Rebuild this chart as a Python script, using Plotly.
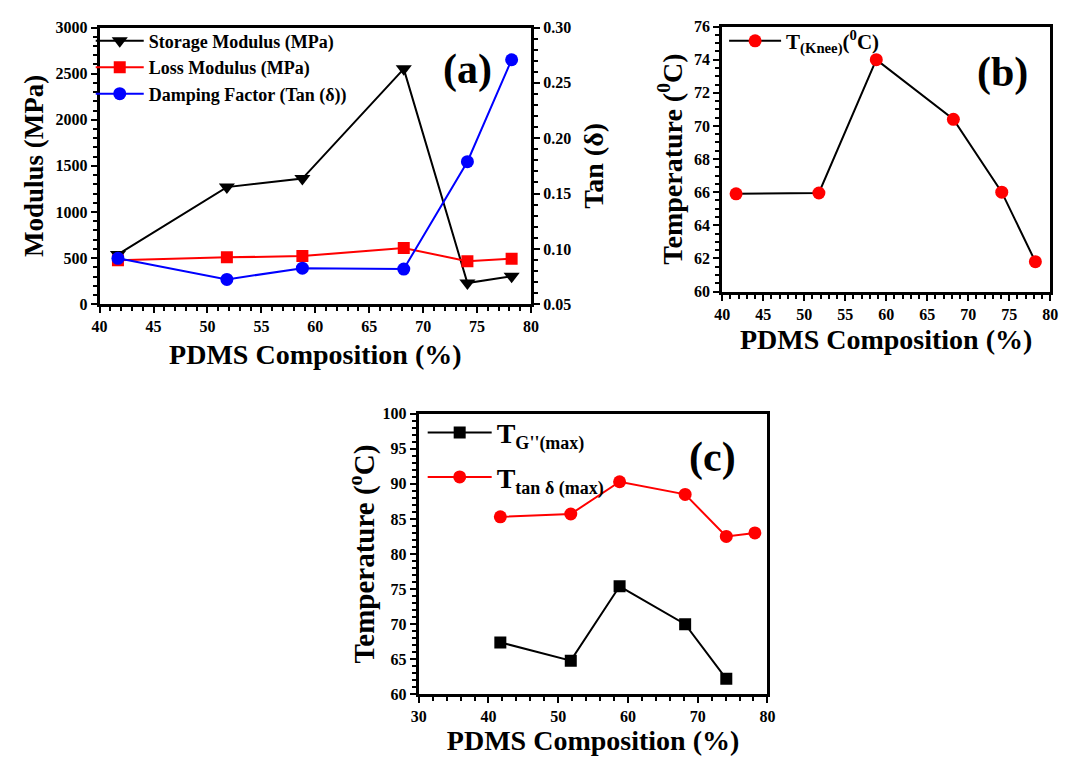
import plotly.graph_objects as go

W, H = 1067, 760

pdms = [41.7, 51.8, 58.8, 68.2, 74.1, 78.2]
storage_mod = [540, 1270, 1362, 2552, 229, 303]
loss_mod = [476, 508, 522, 610, 466, 494]
tan_delta = [0.0915, 0.0724, 0.0826, 0.0818, 0.1788, 0.2709]

t_knee = [65.9, 65.95, 74.0, 70.4, 66.0, 61.8]

pdms_g = [41.7, 51.8, 58.8, 68.2, 74.1]
t_g_max = [67.4, 64.8, 75.4, 70.0, 62.2]
t_tan_max = [85.3, 85.7, 90.3, 88.5, 82.5, 83.0]

FONT = "Liberation Serif, Times New Roman, serif"


def px_x(p):
    return p / W


def px_y(p):
    return 1 - p / H


fig = go.Figure()

# Panel (a)
fig.add_trace(go.Scatter(x=pdms, y=storage_mod, mode="lines+markers", name="Storage Modulus (MPa)",
                         line=dict(color="black", width=2),
                         marker=dict(symbol="triangle-down", size=14, color="black"),
                         xaxis="x", yaxis="y", legend="legend"))
fig.add_trace(go.Scatter(x=pdms, y=loss_mod, mode="lines+markers", name="Loss Modulus (MPa)",
                         line=dict(color="red", width=2),
                         marker=dict(symbol="square", size=12, color="red"),
                         xaxis="x", yaxis="y", legend="legend"))
fig.add_trace(go.Scatter(x=pdms, y=tan_delta, mode="lines+markers", name="Damping Factor (Tan (δ))",
                         line=dict(color="blue", width=2),
                         marker=dict(symbol="circle", size=13, color="blue"),
                         xaxis="x", yaxis="y2", legend="legend"))

# Panel (b)
fig.add_trace(go.Scatter(x=pdms, y=t_knee, mode="lines+markers",
                         name="T<sub>(Knee)</sub>(<sup>0</sup>C)",
                         line=dict(color="black", width=2),
                         marker=dict(symbol="circle", size=13, color="red"),
                         xaxis="x2", yaxis="y3", legend="legend2"))

# Panel (c)
fig.add_trace(go.Scatter(x=pdms_g, y=t_g_max, mode="lines+markers",
                         name="T<sub><span style='font-size:18px'>G''(max)</span></sub>",
                         legendgroup="g1",
                         line=dict(color="black", width=2),
                         marker=dict(symbol="square", size=12, color="black"),
                         xaxis="x3", yaxis="y4", legend="legend3"))
fig.add_trace(go.Scatter(x=pdms, y=t_tan_max, mode="lines+markers",
                         name="T<sub><span style='font-size:18px'>tan δ (max)</span></sub>",
                         legendgroup="g2",
                         line=dict(color="red", width=2),
                         marker=dict(symbol="circle", size=13, color="red"),
                         xaxis="x3", yaxis="y4", legend="legend3"))

tickfont = dict(family=FONT, size=16, color="black", weight="bold")
xtitlefont = dict(family=FONT, size=28, color="black", weight="bold")

common = dict(showline=True, linewidth=3, linecolor="black", mirror=True,
              ticks="outside", ticklen=6, tickwidth=2, tickcolor="black",
              showgrid=False, zeroline=False, tickfont=tickfont,
              minor=dict(ticks="outside", ticklen=4, tickwidth=2, tickcolor="black", showgrid=False))
common_nomirror = {k: v for k, v in common.items() if k != "mirror"}

fig.update_layout(
    width=W, height=H,
    margin=dict(l=0, r=0, t=0, b=0),
    plot_bgcolor="white", paper_bgcolor="white",
    font=dict(family=FONT, color="black"),
    xaxis=dict(domain=[px_x(93), px_x(531)], range=[40, 80], dtick=5, anchor="y",
               title=dict(text="PDMS Composition (%)", font=xtitlefont, standoff=10), **common),
    yaxis=dict(domain=[px_y(303), px_y(20)], range=[0, 3000], dtick=500, anchor="x",
               title=dict(text="Modulus (MPa)", font=dict(family=FONT, size=27, color="black", weight="bold"), standoff=4),
               **common),
    yaxis2=dict(overlaying="y", side="right", anchor="x", range=[0.05, 0.30], dtick=0.05,
                tickformat=".2f",
                title=dict(text="Tan (δ)", font=dict(family=FONT, size=28, color="black", weight="bold"), standoff=14),
                **common_nomirror),
    xaxis2=dict(domain=[px_x(725), px_x(1058)], range=[40, 80], dtick=5, anchor="y3",
                title=dict(text="PDMS Composition (%)", font=xtitlefont, standoff=8), **common),
    yaxis3=dict(domain=[px_y(290), px_y(19)], range=[60, 76], dtick=2, anchor="x2",
                title=dict(text="Temperature (<sup>0</sup>C)", font=dict(family=FONT, size=28, color="black", weight="bold"), standoff=4),
                **common),
    xaxis3=dict(domain=[px_x(417), px_x(771)], range=[30, 80], dtick=10, anchor="y4",
                title=dict(text="PDMS Composition (%)", font=xtitlefont, standoff=2), **common),
    yaxis4=dict(domain=[px_y(702), px_y(415)], range=[60, 100], dtick=5, anchor="x3",
                title=dict(text="Temperature (<sup>o</sup>C)", font=dict(family=FONT, size=29, color="black", weight="bold"), standoff=0),
                **common),
    legend=dict(x=px_x(84), y=px_y(15), xanchor="left", yanchor="top",
                bgcolor="rgba(0,0,0,0)", font=dict(family=FONT, size=18, color="black", weight="bold"),
                itemwidth=48),
    legend2=dict(x=px_x(727), y=px_y(13), xanchor="left", yanchor="top",
                 bgcolor="rgba(0,0,0,0)", font=dict(family=FONT, size=21, color="black", weight="bold"),
                 itemwidth=52),
    legend3=dict(x=px_x(421), y=px_y(409), xanchor="left", yanchor="top",
                 bgcolor="rgba(0,0,0,0)", font=dict(family=FONT, size=28, color="black", weight="bold"),
                 itemwidth=64, tracegroupgap=5, traceorder="grouped"),
    showlegend=True,
)

for txt, cx, cy in [("(a)", 466, 63), ("(b)", 1010, 66), ("(c)", 715, 460)]:
    fig.add_annotation(text=txt, x=px_x(cx), y=px_y(cy), xref="paper", yref="paper",
                       showarrow=False, xanchor="center", yanchor="middle",
                       font=dict(family=FONT, size=42, color="black", weight="bold"))

fig.write_html("out.html")
